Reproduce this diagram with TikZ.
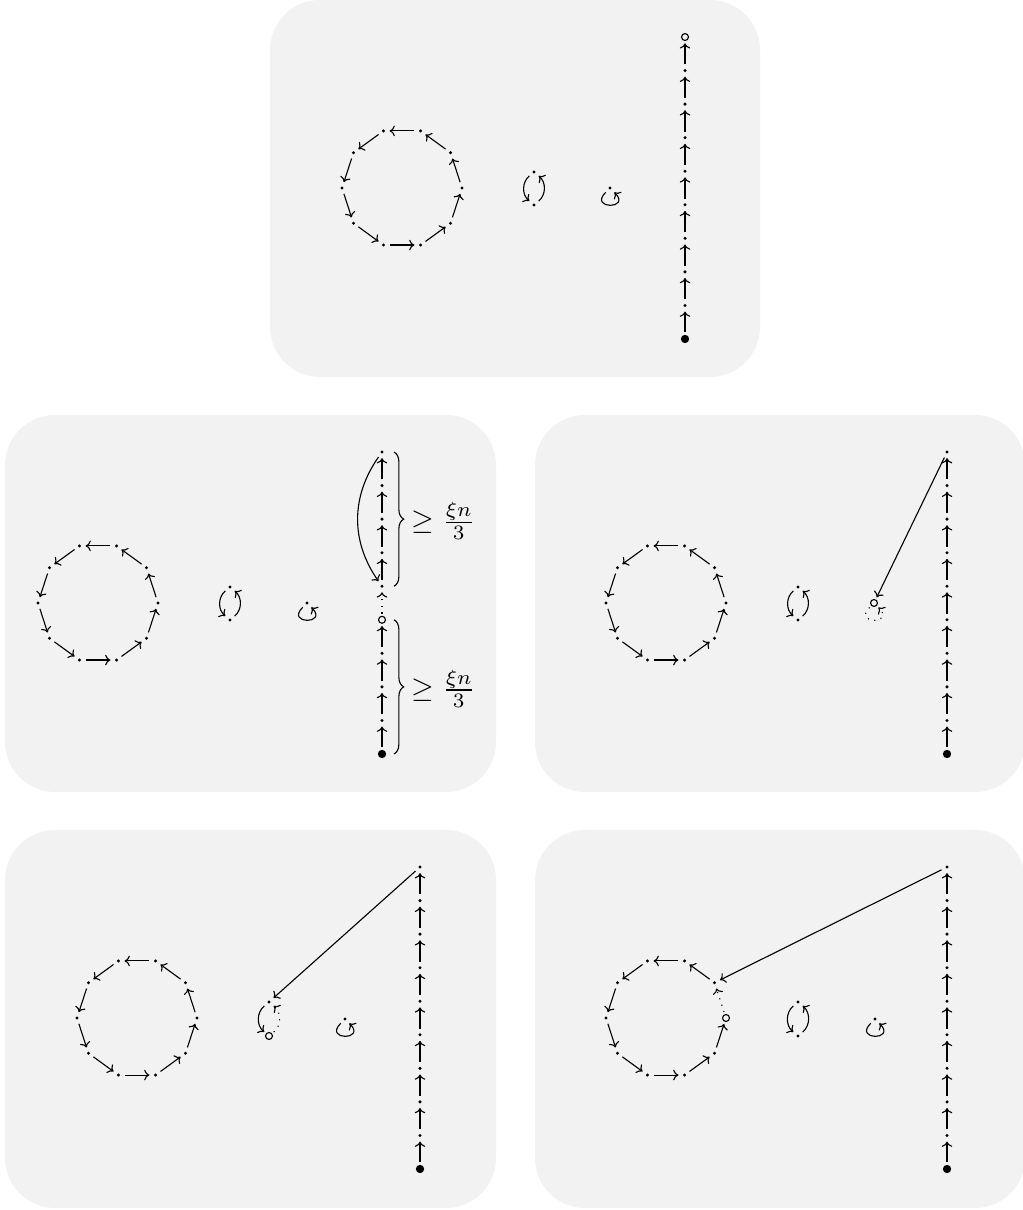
\documentclass[tikz,border=0pt]{standalone}
\usetikzlibrary{decorations.pathreplacing,calc,arrows.meta}
\definecolor{panelgray}{RGB}{242,242,242}
\begin{document}
\begin{tikzpicture}[x=0.36pt,y=0.36pt,>={Computer Modern Rightarrow[length=1.9pt,width=3.8pt]},
  line width=0.4pt,
  panel/.style={fill=panelgray, rounded corners=18pt},
  dotv/.style={circle, inner sep=0pt, minimum size=4pt,
     path picture={\fill[black] (path picture bounding box.center) circle (0.6pt);}},
  openv/.style={circle, draw, inner sep=0pt, minimum size=2.5pt, outer sep=1pt},
  fullv/.style={circle, fill, inner sep=0pt, minimum size=3pt, outer sep=1pt},
  dar/.style={->, dotted},
  twobend/.style={bend right=50},
  bracestyle/.style={decorate, decoration={brace, amplitude=3.5pt}},
  lbl/.style={anchor=west, inner sep=0pt, scale=1.05}]
\useasboundingbox (0,0) rectangle (1023,1210);

% ---------------- Panel 1 ----------------
\begin{scope}[shift={(270,1210)}]
\fill[panel] (0,0) rectangle (490,-377);
\foreach \i in {0,...,9} \node[dotv] (A\i) at ({132+60*cos(36*\i)},{-188+60*sin(36*\i)}) {};
\foreach \i in {0,...,9} {\pgfmathtruncatemacro\j{mod(\i+1,10)} \draw[->] (A\i) -- (A\j);}
\node[dotv] (Au) at (264,-172) {};
\node[dotv] (Ad) at (264,-205) {};
\draw[->] (Au) to[twobend] (Ad);
\draw[->] (Ad) to[twobend] (Au);
\node[dotv] (As) at (340,-188) {};
\draw[->] (As) .. controls +(225:11pt) and +(-45:11pt) .. (As);
\node[fullv] (AV0) at (415,-339) {};
\foreach \k in {1,...,8} \node[dotv] (AV\k) at (415,{-339+33.55*\k}) {};
\node[openv] (AV9) at (415,{-339+33.55*9}) {};
\foreach \k in {0,...,8} {\pgfmathtruncatemacro\l{\k+1} \draw[->] (AV\k) -- (AV\l);}
\end{scope}

% ---------------- Panel 2 ----------------
\begin{scope}[shift={(5,795)}]
\fill[panel] (0,0) rectangle (491,-377);
\foreach \i in {0,...,9} \node[dotv] (B\i) at ({93+60*cos(36*\i)},{-188+60*sin(36*\i)}) {};
\foreach \i in {0,...,9} {\pgfmathtruncatemacro\j{mod(\i+1,10)} \draw[->] (B\i) -- (B\j);}
\node[dotv] (Bu) at (225,-172) {};
\node[dotv] (Bd) at (225,-205) {};
\draw[->] (Bu) to[twobend] (Bd);
\draw[->] (Bd) to[twobend] (Bu);
\node[dotv] (Bs) at (302,-188) {};
\draw[->] (Bs) .. controls +(225:11pt) and +(-45:11pt) .. (Bs);
\node[fullv] (BV0) at (377,-339) {};
\foreach \k in {1,2,3,5,6,7,8,9} \node[dotv] (BV\k) at (377,{-339+33.55*\k}) {};
\node[openv] (BV4) at (377,{-339+33.55*4}) {};
\foreach \k in {0,1,2,3,5,6,7,8} {\pgfmathtruncatemacro\l{\k+1} \draw[->] (BV\k) -- (BV\l);}
\draw[dar] (BV4) -- (BV5);
\draw[->] (BV9) to[bend right=35] (BV5);
\draw[bracestyle] ($(BV9)+(12,0)$) -- ($(BV5)+(12,0)$);
\draw[bracestyle] ($(BV4)+(12,0)$) -- ($(BV0)+(12,0)$);
\node[lbl] (BL1) at ($(BV7)+(29,-1.8)$) {$\geq \frac{\xi n}{3}$};
\node[lbl] (BL2) at ($(BV2)+(29,-1.8)$) {$\geq \frac{\xi n}{3}$};
\end{scope}

% ---------------- Panel 3 ----------------
\begin{scope}[shift={(535,795)}]
\fill[panel] (0,0) rectangle (490,-377);
\foreach \i in {0,...,9} \node[dotv] (C\i) at ({131+60*cos(36*\i)},{-188+60*sin(36*\i)}) {};
\foreach \i in {0,...,9} {\pgfmathtruncatemacro\j{mod(\i+1,10)} \draw[->] (C\i) -- (C\j);}
\node[dotv] (Cu) at (263,-172) {};
\node[dotv] (Cd) at (263,-205) {};
\draw[->] (Cu) to[twobend] (Cd);
\draw[->] (Cd) to[twobend] (Cu);
\node[openv] (Cs) at (339,-188) {};
\draw[dar] (Cs) .. controls +(225:11pt) and +(-45:11pt) .. (Cs);
\node[fullv] (CV0) at (412,-339) {};
\foreach \k in {1,...,9} \node[dotv] (CV\k) at (412,{-339+33.55*\k}) {};
\foreach \k in {0,...,8} {\pgfmathtruncatemacro\l{\k+1} \draw[->] (CV\k) -- (CV\l);}
\draw[->] (CV9) -- (Cs);
\end{scope}

% ---------------- Panel 4 ----------------
\begin{scope}[shift={(5,380)}]
\fill[panel] (0,0) rectangle (491,-378);
\foreach \i in {0,...,9} \node[dotv] (D\i) at ({132+60*cos(36*\i)},{-188+60*sin(36*\i)}) {};
\foreach \i in {0,...,9} {\pgfmathtruncatemacro\j{mod(\i+1,10)} \draw[->] (D\i) -- (D\j);}
\node[dotv] (Du) at (264,-172) {};
\node[openv] (Dd) at (264,-206) {};
\draw[->] (Du) to[twobend] (Dd);
\draw[dar] (Dd) to[twobend] (Du);
\node[dotv] (Ds) at (340,-189) {};
\draw[->] (Ds) .. controls +(225:11pt) and +(-45:11pt) .. (Ds);
\node[fullv] (DV0) at (415,-339) {};
\foreach \k in {1,...,9} \node[dotv] (DV\k) at (415,{-339+33.55*\k}) {};
\foreach \k in {0,...,8} {\pgfmathtruncatemacro\l{\k+1} \draw[->] (DV\k) -- (DV\l);}
\draw[->] (DV9) -- (Du);
\end{scope}

% ---------------- Panel 5 ----------------
\begin{scope}[shift={(535,380)}]
\fill[panel] (0,0) rectangle (490,-378);
\node[openv] (E0) at ({131+60},-188) {};
\foreach \i in {1,...,9} \node[dotv] (E\i) at ({131+60*cos(36*\i)},{-188+60*sin(36*\i)}) {};
\foreach \i in {1,...,9} {\pgfmathtruncatemacro\j{mod(\i+1,10)} \draw[->] (E\i) -- (E\j);}
\draw[dar] (E0) -- (E1);
\node[dotv] (Eu) at (263,-172) {};
\node[dotv] (Ed) at (263,-206) {};
\draw[->] (Eu) to[twobend] (Ed);
\draw[->] (Ed) to[twobend] (Eu);
\node[dotv] (Es) at (340,-189) {};
\draw[->] (Es) .. controls +(225:11pt) and +(-45:11pt) .. (Es);
\node[fullv] (EV0) at (412,-339) {};
\foreach \k in {1,...,9} \node[dotv] (EV\k) at (412,{-339+33.55*\k}) {};
\foreach \k in {0,...,8} {\pgfmathtruncatemacro\l{\k+1} \draw[->] (EV\k) -- (EV\l);}
\draw[->] (EV9) -- (E1);
\end{scope}
\end{tikzpicture}
\end{document}
